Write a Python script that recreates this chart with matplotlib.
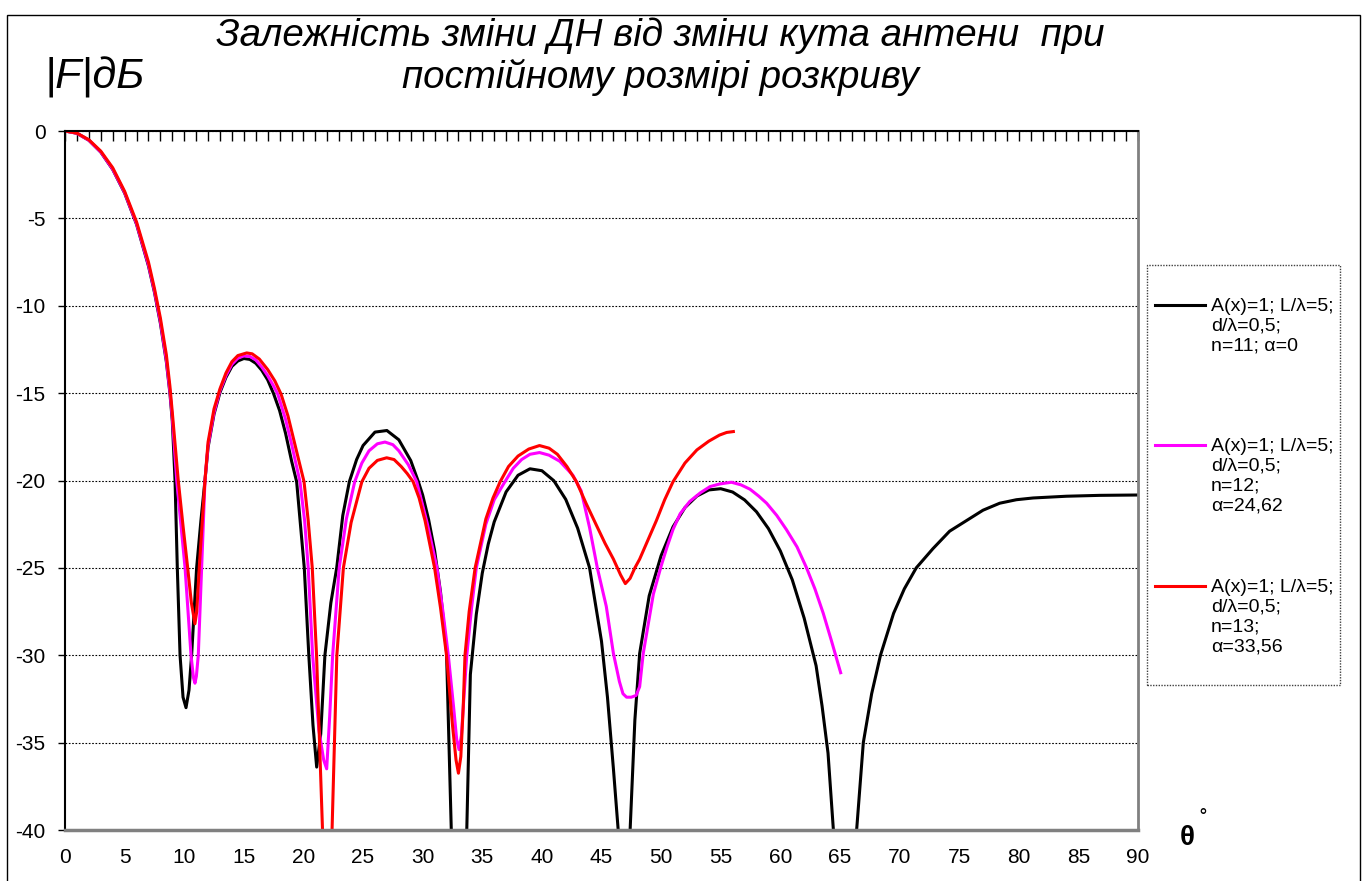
import matplotlib
matplotlib.use("Agg")
import matplotlib.pyplot as plt
from matplotlib.lines import Line2D
from matplotlib.patches import Rectangle
from matplotlib.ticker import MultipleLocator

plt.rcParams['font.family'] = ['Liberation Sans', 'DejaVu Sans']
plt.rcParams['axes.unicode_minus'] = False

# n=11, alpha=0
black_x = [0, 1, 2, 3, 4, 5, 6, 7, 7.5, 8, 8.5, 8.8, 9.0, 9.23, 9.42, 9.65, 9.9, 10.15,
           10.4, 10.62, 11.04, 11.4, 11.74, 12.0, 12.5, 13, 13.5, 14, 14.5, 15, 15.5, 16,
           16.5, 17, 17.5, 18, 18.5, 19, 19.43, 20.07, 20.45, 20.8, 21.11, 21.45, 21.8,
           22.3, 22.79, 23.3, 23.85, 24.46, 25, 26, 27, 28, 29, 29.64, 30, 30.5, 31, 31.5,
           32, 32.4, 33.05, 33.7, 34, 34.5, 35, 35.5, 36, 37, 38, 39, 40, 41, 42, 43, 44,
           45, 45.5, 46, 46.4, 46.9, 47.4, 47.8, 48.2, 49, 50, 51, 52, 53, 54, 55, 56, 57,
           58, 59, 60, 61, 62, 63, 63.5, 64, 64.45, 65.4, 66.4, 66.96, 67.66, 68.4, 69.5,
           70.4, 71.4, 72.8, 74.2, 75.6, 77, 78.4, 79.8, 81.2, 84, 86.8, 90]
black_y = [0, -0.13, -0.53, -1.21, -2.2, -3.55, -5.34, -7.72, -9.22, -11.0, -13.2, -15.0,
           -16.6, -20.0, -25.0, -30.0, -32.4, -33.0, -32.0, -30.0, -25.0, -22.3, -20.0,
           -18.1, -16.2, -14.96, -14.1, -13.47, -13.16, -13.02, -13.07, -13.29, -13.69,
           -14.24, -15.04, -16.0, -17.3, -18.87, -20.07, -25.0, -30.0, -34.0, -36.4, -34.5,
           -30.0, -27.0, -25.0, -22.0, -20.07, -18.8, -18.0, -17.23, -17.14, -17.67,
           -18.86, -20.07, -20.83, -22.24, -24.0, -26.4, -29.8, -40.0, -50.0, -40.0, -31.1,
           -27.65, -25.3, -23.64, -22.37, -20.65, -19.7, -19.33, -19.44, -20.01, -21.08,
           -22.73, -25.0, -29.2, -32.4, -36.5, -40.0, -50.0, -40.0, -33.7, -29.9, -26.6,
           -24.3, -22.65, -21.55, -20.89, -20.54, -20.47, -20.66, -21.11, -21.79, -22.75,
           -24.03, -25.68, -27.88, -30.6, -32.9, -35.6, -40.0, -55.0, -40.0, -35.0, -32.2,
           -30.0, -27.6, -26.2, -25.0, -23.9, -22.9, -22.3, -21.7, -21.3, -21.1, -21.0,
           -20.9, -20.85, -20.83]

# n=12, alpha=24.62
magenta_x = [0, 1, 2, 3, 4, 5, 6, 7, 7.5, 8, 8.5, 8.8, 9.0, 9.37, 10.07, 10.57, 10.78,
             10.9, 11.02, 11.18, 11.46, 11.74, 12.0, 12.5, 13, 13.5, 14, 14.5, 15, 15.5, 16,
             16.5, 17, 17.5, 17.84, 18.5, 19.0, 19.71, 20.1, 20.4, 20.77, 21.3, 21.7, 21.95,
             22.2, 22.45, 23.0, 23.6, 24.3, 24.9, 25.5, 26.2, 26.84, 27.5, 28.0, 28.8, 29.5,
             30.4, 31.2, 31.7, 32.15, 32.6, 32.85, 33.05, 33.25, 33.4, 33.7, 34.1, 34.5,
             35.3, 36.0, 36.9, 37.6, 38.3, 39.0, 39.8, 40.6, 41.5, 42.6, 43.3, 44.0, 44.65,
             45.4, 46.0, 46.5, 46.8, 47.1, 47.5, 47.9, 48.2, 48.5, 49.35, 50.0, 50.5, 51.0,
             51.6, 52.4, 53.3, 54.1, 54.9, 55.9, 56.7, 57.46, 58.2, 58.85, 59.7, 60.5, 61.4,
             62.2, 62.9, 63.6, 64.3, 65.06]
magenta_y = [0, -0.13, -0.53, -1.2, -2.18, -3.52, -5.3, -7.65, -9.15, -10.9, -13.1, -14.9,
             -16.4, -20.0, -25.0, -30.0, -31.3, -31.6, -31.2, -30.0, -25.0, -20.0, -18.0,
             -16.1, -14.85, -14.0, -13.35, -13.0, -12.87, -12.9, -13.1, -13.5, -14.0, -14.6,
             -15.05, -16.5, -17.9, -20.07, -22.3, -25.0, -30.0, -34.3, -36.0, -36.5, -33.5,
             -30.0, -25.0, -22.2, -20.07, -19.0, -18.3, -17.9, -17.8, -17.95, -18.3, -19.1,
             -20.07, -22.5, -25.0, -27.5, -30.0, -33.0, -34.8, -35.4, -34.6, -33.0, -30.0,
             -27.3, -25.0, -22.5, -21.1, -20.07, -19.3, -18.8, -18.5, -18.4, -18.55, -18.9,
             -19.7, -20.6, -22.7, -25.0, -27.2, -29.9, -31.5, -32.2, -32.4, -32.4, -32.3,
             -31.8, -29.9, -26.5, -24.9, -23.8, -22.8, -21.9, -21.2, -20.7, -20.35, -20.2,
             -20.1, -20.25, -20.5, -20.9, -21.3, -22.0, -22.8, -23.8, -25.0, -26.2, -27.6,
             -29.2, -31.0]

# n=13, alpha=33.56
red_x = [0, 1, 2, 3, 4, 5, 6, 7, 7.5, 8, 8.5, 8.8, 9.0, 9.5, 9.9, 10.29, 10.6, 10.9, 11.05,
         11.26, 11.74, 12.0, 12.5, 13, 13.5, 14, 14.5, 15.24, 15.7, 16.3, 17, 17.6, 18.12,
         18.7, 19.2, 19.7, 20.05, 20.4, 20.74, 21.1, 21.6, 22.0, 22.4, 22.8, 23.35, 24.0,
         24.9, 25.5, 26.2, 26.98, 27.6, 28.2, 28.7, 29.2, 29.7, 30.2, 31.0, 31.5, 32.0,
         32.5, 32.8, 33.0, 33.2, 33.4, 33.55, 33.9, 34.4, 35.3, 35.9, 36.5, 37.2, 38.0,
         38.9, 39.8, 40.6, 41.3, 42.1, 42.9, 43.7, 44.6, 45.3, 46.0, 46.6, 47.0, 47.4,
         47.8, 48.2, 48.9, 49.6, 50.3, 51.0, 52.0, 53.0, 54.0, 54.9, 55.5, 56.06]
red_y = [0, -0.12, -0.5, -1.15, -2.1, -3.45, -5.2, -7.5, -9.0, -10.7, -12.8, -14.6, -16.1,
         -20.0, -22.6, -25.0, -27.0, -28.2, -27.5, -25.0, -20.0, -17.8, -15.9, -14.75,
         -13.85, -13.2, -12.85, -12.7, -12.75, -13.05, -13.65, -14.3, -15.05, -16.3, -17.7,
         -19.1, -20.07, -22.3, -25.0, -30.0, -40.0, -50.0, -40.0, -30.0, -25.0, -22.4,
         -20.07, -19.3, -18.85, -18.7, -18.8, -19.2, -19.6, -20.07, -21.0, -22.3, -25.0,
         -27.3, -30.0, -34.0, -36.0, -36.75, -35.8, -33.0, -30.0, -27.5, -25.0, -22.2,
         -21.0, -20.07, -19.2, -18.6, -18.2, -18.0, -18.15, -18.5, -19.2, -20.07, -21.3,
         -22.6, -23.6, -24.5, -25.4, -25.9, -25.6, -25.0, -24.5, -23.4, -22.3, -21.1,
         -20.07, -19.0, -18.25, -17.75, -17.4, -17.25, -17.2]

series_x = [black_x, magenta_x, red_x]
series_y = [black_y, magenta_y, red_y]
colors = ['#000000', '#FF00FF', '#FF0000']
labels = ["A(x)=1; L/λ=5;\nd/λ=0,5;\nn=11; α=0",
          "A(x)=1; L/λ=5;\nd/λ=0,5;\nn=12;\nα=24,62",
          "A(x)=1; L/λ=5;\nd/λ=0,5;\nn=13;\nα=33,56"]

W, H = 1367, 881
fig = plt.figure(figsize=(W / 100, H / 100), dpi=100)
ax = fig.add_axes([65 / W, 1 - 830 / H, (1138 - 65) / W, (830 - 131) / H])

for xs, ys, c in zip(series_x, series_y, colors):
    ax.plot(xs, ys, color=c, lw=2.2, solid_joinstyle='round')

ax.set_xlim(0, 90)
ax.set_ylim(-40, 0)
ax.set_xticks(range(0, 91, 5))
ax.set_yticks(range(-40, 1, 5))
ax.xaxis.set_minor_locator(MultipleLocator(1))
ax.tick_params(axis='x', which='both', bottom=False, top=True, direction='in',
               length=7, width=1, labelsize=15, pad=13)
ax.tick_params(axis='y', direction='out', length=5, width=1, labelsize=15, pad=9)

ax.set_axisbelow(True)
ax.grid(axis='y', linestyle=(0, (1.5, 1.5)), color='black', lw=0.8)
ax.spines['left'].set_linewidth(1.5)
ax.spines['top'].set_linewidth(1.5)
ax.spines['bottom'].set_color('#808080')
ax.spines['bottom'].set_linewidth(2.5)
ax.spines['right'].set_color('#808080')
ax.spines['right'].set_linewidth(2)

# chart frame
fig.add_artist(Rectangle((7 / W, -0.01), (1360 - 7) / W, 1.01 - 15 / H,
                         transform=fig.transFigure, fill=False, ec='black', lw=1))

fig.text(660 / W, 1 - 57 / H,
         "Залежність зміни ДН від зміни кута антени  при\nпостійному розмірі розкриву",
         ha='center', va='center', fontsize=27.7, style='italic', linespacing=1.18)
fig.text(45 / W, 1 - 77 / H, "|F|дБ", ha='left', va='center', fontsize=31,
         style='italic')
fig.text(1180 / W, 1 - 838 / H, "θ", ha='left', va='center', fontsize=20,
         weight='bold')
fig.text(1199 / W, 1 - 822 / H, "˚", ha='left', va='center', fontsize=17)

# legend
fig.add_artist(Rectangle((1147 / W, 1 - 685 / H), (1340 - 1147) / W, (685 - 265) / H,
                         transform=fig.transFigure, fill=False, ec='#404040', lw=1,
                         ls=(0, (1, 1))))
for lab, c, yy in zip(labels, colors, [305, 445, 586]):
    fig.add_artist(Line2D([1155 / W, 1205 / W], [1 - yy / H, 1 - yy / H],
                          transform=fig.transFigure, color=c, lw=2.2))
    fig.text(1211 / W, 1 - (yy - 7) / H, lab, ha='left', va='top', fontsize=14,
             linespacing=1.22)

fig.savefig("out.png", dpi=100)
